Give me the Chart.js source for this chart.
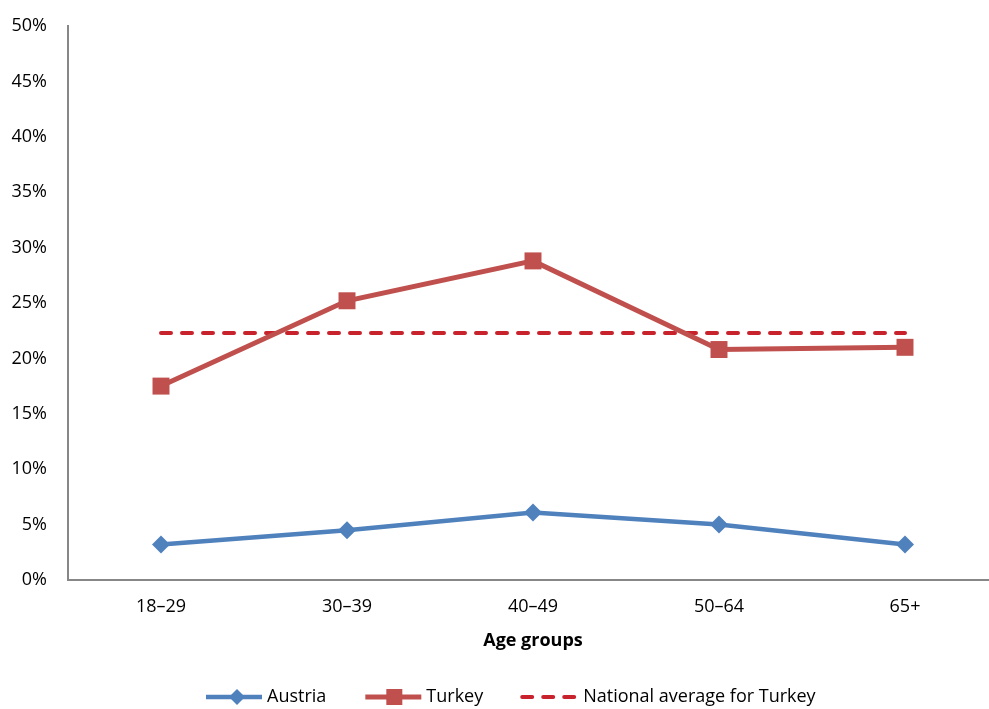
<!DOCTYPE html>
<html>
<head>
<meta charset="utf-8">
<script src="https://cdn.jsdelivr.net/npm/chart.js@4/dist/chart.umd.min.js"></script>
<style>
    html, body { margin: 0; padding: 0; background: #fff; overflow: hidden; }
    #wrap { width: 1010px; height: 709px; }
</style>
</head>
<body>
<div id="wrap"><canvas id="ageChart" width="1010" height="709"></canvas></div>
<script>
const ageGroups = ['18\u201329', '30\u201339', '40\u201349', '50\u201364', '65+'];
const austriaValues = [3.2, 4.5, 6.1, 5.0, 3.2];
const turkeyValues = [17.5, 25.2, 28.8, 20.8, 21.0];
const nationalAverage = [22.3, 22.3, 22.3, 22.3, 22.3];
const yTicks = [0, 5, 10, 15, 20, 25, 30, 35, 40, 45, 50];

const fontFamily = '"Open Sans", sans-serif';
const axisColor = '#878787';

// Legend drawn below the axis title, line sample + marker like the original
const bottomLegend = {
    id: 'bottomLegend',
    afterDraw(chart) {
        const ctx = chart.ctx;
        const y = 697;
        let x = 206;
        ctx.save();
        ctx.font = '18px ' + fontFamily;
        ctx.textBaseline = 'middle';
        chart.data.datasets.forEach(ds => {
            ctx.strokeStyle = ds.borderColor;
            ctx.lineWidth = ds.borderWidth;
            ctx.lineCap = ds.borderDash ? 'round' : 'butt';
            ctx.setLineDash(ds.borderDash || []);
            ctx.beginPath();
            ctx.moveTo(x, y);
            ctx.lineTo(x + 56, y);
            ctx.stroke();
            ctx.setLineDash([]);
            if (ds.pointRadius > 0) {
                ctx.fillStyle = ds.pointBackgroundColor;
                const r = 8;
                ctx.beginPath();
                if (ds.pointStyle === 'rect') {
                    ctx.rect(x + 29 - r, y - r, 2 * r, 2 * r);
                } else {
                    ctx.moveTo(x + 31, y - r);
                    ctx.lineTo(x + 31 + r, y);
                    ctx.lineTo(x + 31, y + r);
                    ctx.lineTo(x + 31 - r, y);
                    ctx.closePath();
                }
                ctx.fill();
            }
            ctx.fillStyle = '#000';
            ctx.fillText(ds.label, x + 61, y);
            x += 61 + ctx.measureText(ds.label).width + 39;
        });
        ctx.restore();
    }
};

new Chart(document.getElementById('ageChart'), {
    type: 'line',
    data: {
        labels: ageGroups,
        datasets: [
            {
                label: 'Austria',
                data: austriaValues,
                borderColor: '#4F81BD',
                backgroundColor: '#4F81BD',
                pointBackgroundColor: '#4F81BD',
                pointBorderWidth: 0,
                borderWidth: 4.5,
                pointStyle: 'rectRot',
                pointRadius: 9
            },
            {
                label: 'Turkey',
                data: turkeyValues,
                borderColor: '#C0504D',
                backgroundColor: '#C0504D',
                pointBackgroundColor: '#C0504D',
                pointBorderWidth: 0,
                borderWidth: 5,
                pointStyle: 'rect',
                pointRadius: 12
            },
            {
                label: 'National average for Turkey',
                data: nationalAverage,
                borderColor: '#C8232C',
                backgroundColor: '#C8232C',
                borderWidth: 4,
                borderDash: [10, 11],
                borderCapStyle: 'round',
                pointRadius: 0
            }
        ]
    },
    options: {
        responsive: false,
        animation: false,
        layout: { padding: { top: 26, right: 0, bottom: 0, left: 0 } },
        plugins: {
            legend: { display: false },
            tooltip: { enabled: false }
        },
        scales: {
            x: {
                offset: true,
                grid: { display: false, drawTicks: false },
                border: { display: true, color: axisColor, width: 2 },
                ticks: {
                    padding: 16,
                    color: '#000',
                    font: { family: fontFamily, size: 18 }
                },
                title: {
                    display: true,
                    text: 'Age groups',
                    color: '#000',
                    padding: { top: 0, bottom: 57 },
                    font: { family: fontFamily, size: 18, weight: 'bold' }
                },
                afterFit(scale) {
                    scale.height = 129;
                    scale.paddingLeft = 0;
                    scale.paddingRight = 0;
                }
            },
            y: {
                min: 0,
                max: 50,
                grid: { display: false, drawTicks: false },
                border: { display: true, color: axisColor, width: 2 },
                afterBuildTicks(scale) {
                    scale.ticks = yTicks.map(v => ({ value: v }));
                },
                ticks: {
                    padding: 21,
                    color: '#000',
                    font: { family: fontFamily, size: 18 },
                    callback: v => v + '%'
                },
                afterFit(scale) {
                    scale.width = 68;
                    scale.paddingTop = 0;
                    scale.paddingBottom = 0;
                }
            }
        }
    },
    plugins: [bottomLegend]
});
</script>
</body>
</html>
